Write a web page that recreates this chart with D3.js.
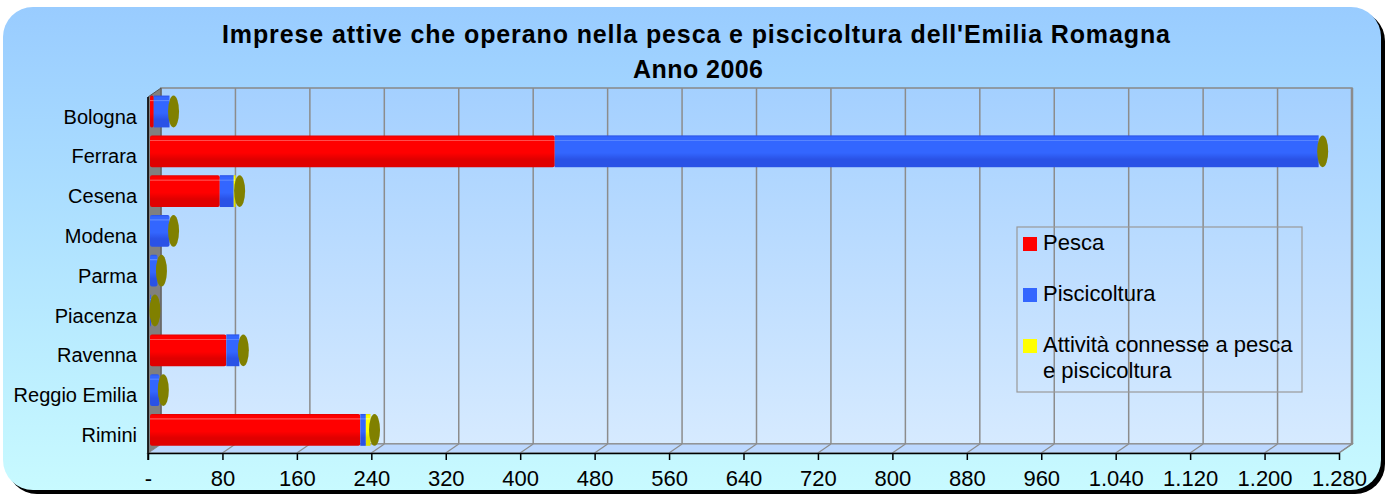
<!DOCTYPE html>
<html>
<head>
<meta charset="utf-8">
<script src="https://cdn.jsdelivr.net/npm/d3@7"></script>
<style>
  body { margin: 0; background: #fff; }
  text { font-family: "Liberation Sans", Arial, sans-serif; }
</style>
</head>
<body>
<svg id="chart" width="1386" height="496"></svg>
<script>
// values
const categories = ['Bologna', 'Ferrara', 'Cesena', 'Modena', 'Parma', 'Piacenza', 'Ravenna', 'Reggio Emilia', 'Rimini'];
const pesca = [4, 435, 75, 0, 0, 0, 82, 0, 226];
const piscicoltura = [17, 821, 15, 21, 8, 1, 14, 10, 6];
const attivita = [0, 0, 2, 0, 0, 0, 0, 0, 5];
const seriesNames = ['Pesca', 'Piscicoltura', 'Attività connesse a pesca e piscicoltura'];
const tickValues = [0, 80, 160, 240, 320, 400, 480, 560, 640, 720, 800, 880, 960, 1040, 1120, 1200, 1280];

const colors = ['#ff0000', '#3366ff', '#ffff00'];
const dark = ['#e00000', '#2a52e6', '#e0e000'];
const light = ['#ff6a6a', '#6690ff', '#ffff90'];

const svg = d3.select('#chart');
const defs = svg.append('defs');

const bgGrad = defs.append('linearGradient').attr('id', 'bg').attr('x1', 0).attr('y1', 0).attr('x2', 0).attr('y2', 1);
bgGrad.append('stop').attr('offset', '0%').attr('stop-color', '#99ccff');
bgGrad.append('stop').attr('offset', '100%').attr('stop-color', '#c8faff');

const wallGrad = defs.append('linearGradient').attr('id', 'wall').attr('x1', 0).attr('y1', 0).attr('x2', 0).attr('y2', 1);
wallGrad.append('stop').attr('offset', '0%').attr('stop-color', '#a4d0ff');
wallGrad.append('stop').attr('offset', '100%').attr('stop-color', '#d6eaff');

colors.forEach((c, i) => {
    const g = defs.append('linearGradient').attr('id', 'bar' + i).attr('x1', 0).attr('y1', 0).attr('x2', 0).attr('y2', 1);
    g.append('stop').attr('offset', '0%').attr('stop-color', dark[i]);
    g.append('stop').attr('offset', '6%').attr('stop-color', c);
    g.append('stop').attr('offset', '13%').attr('stop-color', c);
    g.append('stop').attr('offset', '15%').attr('stop-color', light[i]);
    g.append('stop').attr('offset', '19%').attr('stop-color', c);
    g.append('stop').attr('offset', '55%').attr('stop-color', c);
    g.append('stop').attr('offset', '75%').attr('stop-color', dark[i]);
    g.append('stop').attr('offset', '100%').attr('stop-color', dark[i]);
});

// background
svg.append('rect').attr('x', 7).attr('y', 11).attr('width', 1378).attr('height', 483).attr('rx', 30).attr('fill', '#000');
svg.append('rect').attr('x', 3).attr('y', 7).attr('width', 1378).attr('height', 483).attr('rx', 30).attr('fill', 'url(#bg)');

// title
svg.append('text').attr('x', 222).attr('y', 43)
    .attr('font-size', 25).attr('font-weight', 'bold')
    .attr('textLength', 948).attr('lengthAdjust', 'spacing')
    .text("Imprese attive che operano nella pesca e piscicoltura dell'Emilia Romagna");
svg.append('text').attr('x', 633).attr('y', 78)
    .attr('font-size', 25).attr('font-weight', 'bold')
    .attr('textLength', 130).attr('lengthAdjust', 'spacing')
    .text('Anno 2006');

// 3d geometry
const dx = 13, dy = 9;
const front = d3.scaleLinear().domain([0, 1280]).range([148, 1339]);
const back = v => front(v) + dx;
const barX = d3.scaleLinear().domain([0, 1280]).range([150, 1341]);
const yTop = 97, yBottom = 453;
const y = d3.scaleBand().domain(categories).range([91.6, 449.8]).paddingInner(0.2).paddingOuter(0.1);

// back wall
svg.append('rect').attr('x', back(0)).attr('y', yTop - dy).attr('width', back(1280) - back(0))
    .attr('height', yBottom - yTop).attr('fill', 'url(#wall)').attr('stroke', '#888').attr('stroke-width', 1.5);

// left wall
svg.append('polygon')
    .attr('points', [[front(0), yTop], [back(0), yTop - dy], [back(0), yBottom - dy], [front(0), yBottom]].join(' '))
    .attr('fill', '#808080').attr('stroke', '#555').attr('stroke-width', 1);

// floor
svg.append('polygon')
    .attr('points', [[front(0), yBottom], [back(0), yBottom - dy], [back(1280), yBottom - dy], [front(1280), yBottom]].join(' '))
    .attr('fill', '#bcd8ff').attr('stroke', '#888').attr('stroke-width', 1.2);

// gridlines
svg.selectAll('.grid').data(tickValues.slice(1)).enter().append('line')
    .attr('class', 'grid')
    .attr('x1', d => back(d)).attr('x2', d => back(d))
    .attr('y1', yTop - dy).attr('y2', yBottom - dy)
    .attr('stroke', '#8c8c8c').attr('stroke-width', d => d === 1280 ? 2.5 : 1.5);
svg.selectAll('.floorline').data(tickValues.slice(1)).enter().append('line')
    .attr('class', 'floorline')
    .attr('x1', d => front(d)).attr('x2', d => back(d))
    .attr('y1', yBottom).attr('y2', yBottom - dy)
    .attr('stroke', '#8c8c8c').attr('stroke-width', 1.2);

// stacked data
const rows = categories.map((c, i) => {
    const vals = [pesca[i], piscicoltura[i], attivita[i]];
    let acc = 0;
    const segs = vals.map((v, k) => {
        const s = {cat: c, k: k, x0: acc, x1: acc + v};
        acc += v;
        return s;
    }).filter(s => s.x1 > s.x0);
    return {cat: c, total: acc, segs: segs};
});

const bh = y.bandwidth();
const bars = svg.selectAll('.bar').data(rows).enter().append('g').attr('class', 'bar');

bars.selectAll('rect').data(d => d.segs).enter().append('rect')
    .attr('x', d => barX(d.x0))
    .attr('y', d => y(d.cat))
    .attr('width', d => barX(d.x1) - barX(d.x0))
    .attr('height', bh)
    .attr('rx', d => d.x0 === 0 ? 2 : 0)
    .attr('fill', d => 'url(#bar' + d.k + ')');

// end caps
bars.append('ellipse')
    .attr('cx', d => barX(d.total) + 4)
    .attr('cy', d => y(d.cat) + bh / 2)
    .attr('rx', 5.5)
    .attr('ry', bh / 2)
    .attr('fill', '#808000');

// front axis
const fmt = d3.formatLocale({decimal: ',', thousands: '.', grouping: [3], currency: ['€', '']}).format(',d');
const axis = d3.axisBottom(front).tickValues(tickValues).tickSize(7).tickSizeOuter(0)
    .tickFormat(d => d === 0 ? '-' : fmt(d));
const ax = svg.append('g').attr('transform', `translate(0,${yBottom})`).call(axis);
ax.select('.domain').attr('stroke', '#000').attr('stroke-width', 1.5);
ax.selectAll('.tick line').attr('stroke', '#000').attr('stroke-width', 1.5);
ax.selectAll('.tick text').attr('font-size', 22).attr('font-family', '"Liberation Sans", Arial, sans-serif')
    .attr('fill', '#000').attr('dy', '1.05em');

svg.append('line').attr('x1', front(0)).attr('x2', front(0)).attr('y1', yTop).attr('y2', yBottom + 7)
    .attr('stroke', '#000').attr('stroke-width', 1.5);

// category labels
svg.selectAll('.cat').data(categories).enter().append('text')
    .attr('class', 'cat')
    .attr('x', 137)
    .attr('y', d => y(d) + bh / 2 + 5)
    .attr('dy', '0.35em')
    .attr('text-anchor', 'end')
    .attr('font-size', 20)
    .text(d => d);

// legend
const lg = svg.append('g');
lg.append('rect').attr('x', 1017).attr('y', 227).attr('width', 285).attr('height', 165)
    .attr('fill', 'none').attr('stroke', '#999').attr('stroke-width', 1.2);
const legendY = [237, 288, 339];
seriesNames.forEach((name, i) => {
    lg.append('rect').attr('x', 1023).attr('y', legendY[i]).attr('width', 14).attr('height', 14).attr('fill', colors[i]);
    const t = lg.append('text').attr('x', 1043).attr('y', legendY[i] + 13).attr('font-size', 22);
    if (i === 2) {
        t.append('tspan').attr('x', 1043).text('Attività connesse a pesca');
        t.append('tspan').attr('x', 1043).attr('dy', 26).text('e piscicoltura');
    } else {
        t.text(name);
    }
});
</script>
</body>
</html>
